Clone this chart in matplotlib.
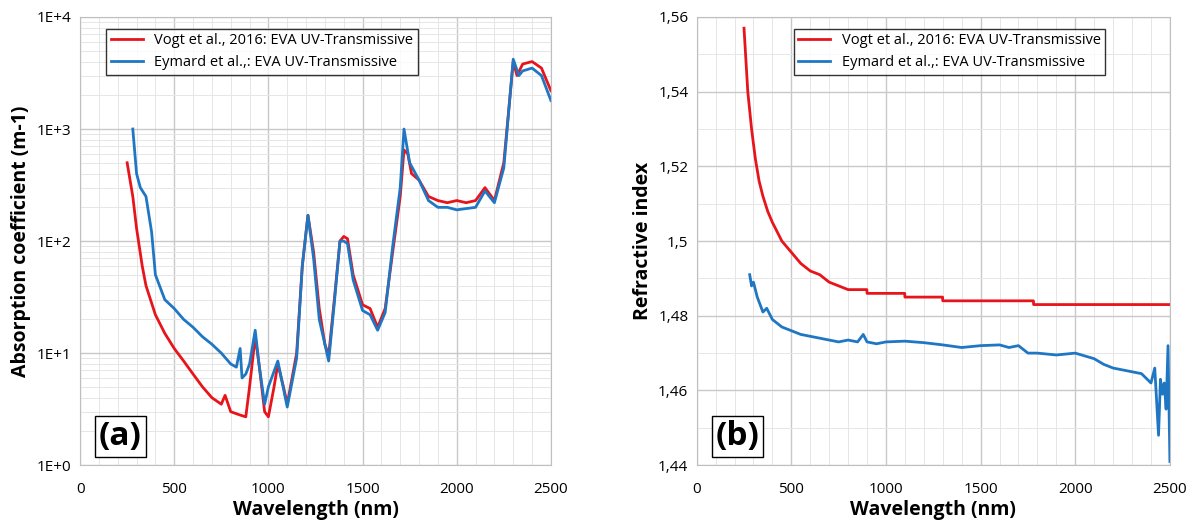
import matplotlib

matplotlib.use("Agg")

import matplotlib.pyplot as plt
import matplotlib.ticker as mticker
import numpy as np

plt.rcParams["font.family"] = ["Open Sans", "DejaVu Sans"]

RED = "#e8141b"
BLUE = "#1f77c4"

# (a) absorption coefficient
vogt_abs_wl = [250, 280, 300, 330, 350, 400, 450, 500, 550, 600, 650, 700, 750, 770, 800, 850, 880,
               900, 930, 950, 980, 1000, 1030, 1050, 1080, 1100, 1150, 1180, 1210, 1240, 1270, 1300,
               1320, 1350, 1380, 1400, 1420, 1450, 1500, 1540, 1580, 1620, 1660, 1700, 1720, 1740,
               1760, 1800, 1850, 1900, 1950, 2000, 2050, 2100, 2150, 2200, 2250, 2300, 2320, 2350,
               2400, 2450, 2500]
vogt_abs = [500, 250, 130, 60, 40, 22, 15, 11, 8.5, 6.5, 5, 4, 3.5, 4.2, 3.0, 2.8, 2.7,
            5, 14, 8, 3, 2.7, 5, 8, 5, 3.5, 10, 60, 170, 80, 25, 12,
            9.5, 30, 100, 110, 105, 50, 27, 25, 17, 25, 80, 250, 650, 600,
            400, 350, 250, 230, 220, 230, 220, 230, 300, 230, 500, 4000, 3000, 3800,
            4000, 3500, 2200]

eym_abs_wl = [280, 300, 320, 350, 380, 400, 450, 500, 550, 600, 650, 700, 750, 800, 830, 850, 860,
              880, 900, 930, 950, 980, 1000, 1050, 1100, 1150, 1180, 1210, 1240, 1270, 1320, 1350,
              1380, 1400, 1420, 1450, 1500, 1540, 1580, 1620, 1660, 1700, 1720, 1750, 1800, 1850,
              1900, 1950, 2000, 2050, 2100, 2150, 2200, 2250, 2300, 2330, 2350, 2400, 2450, 2500]
eym_abs = [1000, 400, 300, 250, 120, 50, 30, 25, 20, 17, 14, 12, 10, 8, 7.5, 11, 6,
           6.5, 8, 16, 8, 3.5, 5, 8.5, 3.3, 9, 60, 170, 70, 20, 8.5, 28,
           100, 100, 95, 45, 24, 22, 16, 23, 90, 300, 1000, 500, 350, 230,
           200, 200, 190, 195, 200, 280, 220, 450, 4200, 3000, 3300, 3500, 3000, 1800]

# (b) refractive index
vogt_n_wl = [250, 270, 290, 310, 330, 350, 375, 400, 450, 500, 550, 600, 650, 700, 750, 800,
             899, 900, 1099, 1100, 1299, 1300, 1779, 1780, 2500]
vogt_n = [1.557, 1.540, 1.530, 1.522, 1.516, 1.512, 1.508, 1.505, 1.500, 1.497, 1.494, 1.492,
          1.491, 1.489, 1.488, 1.487, 1.487, 1.486, 1.486, 1.485, 1.485, 1.484, 1.484, 1.483, 1.483]

eym_n_wl = [280, 290, 300, 320, 350, 370, 400, 450, 500, 550, 600, 650, 700, 750, 800, 850, 880,
            900, 950, 1000, 1100, 1200, 1300, 1400, 1500, 1600, 1650, 1700, 1750, 1800, 1900,
            2000, 2100, 2150, 2200, 2250, 2300, 2350, 2400, 2420, 2440, 2450, 2460, 2470, 2480,
            2490, 2500]
eym_n = [1.491, 1.488, 1.489, 1.485, 1.481, 1.482, 1.479, 1.477, 1.476, 1.475, 1.4745, 1.474,
         1.4735, 1.473, 1.4735, 1.473, 1.475, 1.473, 1.4725, 1.473, 1.4732, 1.4728, 1.4722,
         1.4715, 1.472, 1.4722, 1.4715, 1.472, 1.470, 1.470, 1.4695, 1.470, 1.4685, 1.467,
         1.466, 1.4655, 1.465, 1.4645, 1.462, 1.466, 1.448, 1.463, 1.459, 1.462, 1.455, 1.472,
         1.441]


def style_axes(ax):
    ax.set_xlim(0, 2500)
    ax.xaxis.set_major_locator(mticker.MultipleLocator(500))
    ax.xaxis.set_minor_locator(mticker.MultipleLocator(100))
    ax.grid(which="major", color="#c8c8c8", linewidth=1.0)
    ax.grid(which="minor", color="#e6e6e6", linewidth=0.7)
    ax.set_axisbelow(True)
    ax.tick_params(which="both", length=0, labelsize=11, pad=12)
    for s in ax.spines.values():
        s.set_color("#bfbfbf")
    ax.set_xlabel("Wavelength (nm)", fontsize=14, fontweight="bold", labelpad=2)


fig = plt.figure(figsize=(11.95, 5.31), dpi=100)
ax1 = fig.add_axes([0.067, 0.124, 0.394, 0.844])
ax2 = fig.add_axes([0.583, 0.124, 0.396, 0.844])

ax1.plot(vogt_abs_wl, vogt_abs, color=RED, lw=2, label="Vogt et al., 2016: EVA UV-Transmissive")
ax1.plot(eym_abs_wl, eym_abs, color=BLUE, lw=2, label="Eymard et al.,: EVA UV-Transmissive")
ax1.set_yscale("log")
ax1.set_ylim(1, 1e4)
ax1.yaxis.set_major_formatter(mticker.FuncFormatter(lambda v, p: "1E+%d" % round(np.log10(v))))
ax1.yaxis.set_minor_locator(mticker.LogLocator(subs=np.arange(2, 10)))
ax1.yaxis.set_minor_formatter(mticker.NullFormatter())
style_axes(ax1)
ax1.tick_params(axis="y", pad=6)
ax1.set_ylabel("Absorption coefficient (m-1)", fontsize=14, fontweight="bold")
ax1.legend(loc="upper left", bbox_to_anchor=(0.04, 0.99), frameon=True, fancybox=False,
           edgecolor="black", fontsize=10.5, handlelength=2.2, borderpad=0.3)
ax1.text(0.04, 0.1, "(a)", transform=ax1.transAxes, fontsize=24, fontweight="bold",
         va="top", bbox=dict(facecolor="white", edgecolor="black", pad=3))

ax2.plot(vogt_n_wl, vogt_n, color=RED, lw=2, label="Vogt et al., 2016: EVA UV-Transmissive")
ax2.plot(eym_n_wl, eym_n, color=BLUE, lw=2, label="Eymard et al.,: EVA UV-Transmissive")
ax2.set_ylim(1.44, 1.56)
ax2.yaxis.set_major_locator(mticker.MultipleLocator(0.02))
ax2.yaxis.set_minor_locator(mticker.MultipleLocator(0.01))
ax2.yaxis.set_major_formatter(mticker.FuncFormatter(lambda v, p: ("%g" % round(v, 2)).replace(".", ",")))
style_axes(ax2)
ax2.tick_params(axis="y", pad=6)
ax2.set_ylabel("Refractive index", fontsize=14, fontweight="bold")
ax2.legend(loc="upper left", bbox_to_anchor=(0.19, 0.99), frameon=True, fancybox=False,
           edgecolor="black", fontsize=10.5, handlelength=2.2, borderpad=0.3)
ax2.text(0.04, 0.1, "(b)", transform=ax2.transAxes, fontsize=24, fontweight="bold",
         va="top", bbox=dict(facecolor="white", edgecolor="black", pad=3))

fig.savefig("out.png", dpi=100)
